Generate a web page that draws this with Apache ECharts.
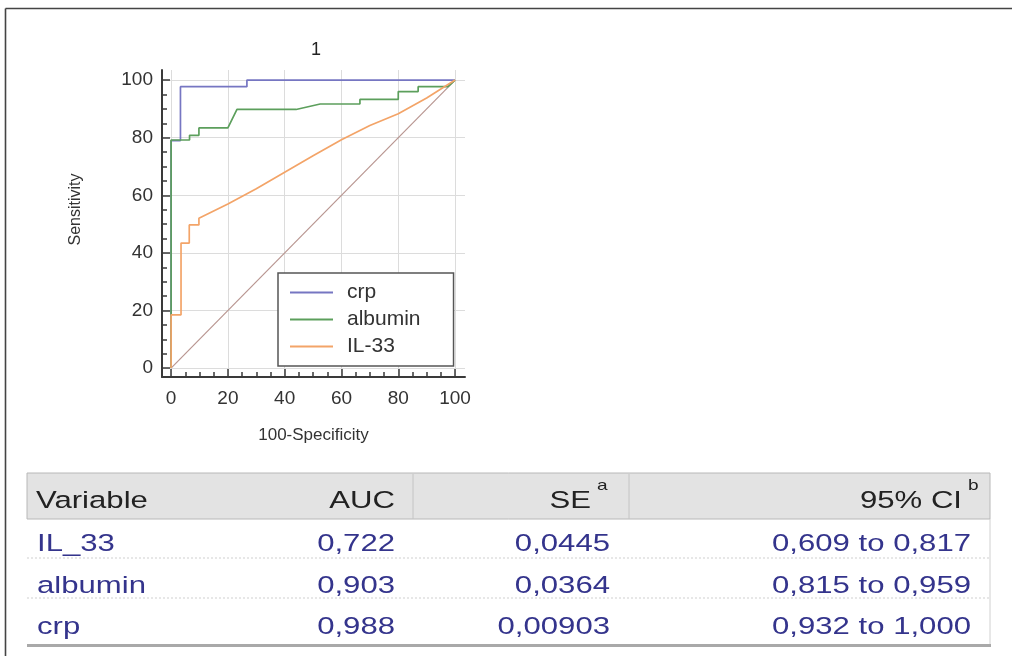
<!DOCTYPE html>
<html>
<head>
<meta charset="utf-8">
<script src="https://cdn.jsdelivr.net/npm/echarts@6/dist/echarts.min.js"></script>
<style>
  html, body { margin: 0; padding: 0; background: #fff; }
  #chart { width: 1012px; height: 656px; }
</style>
</head>
<body>
<div id="chart"></div>
<script>
// ROC curves: [100-Specificity, Sensitivity]
const crpRoc = [[0, 0], [0, 79], [3.3, 79], [3.3, 97.7], [26.7, 97.7], [26.7, 100], [100, 100]];
const albuminRoc = [[0, 0], [0, 79.2], [6.5, 79.2], [6.5, 80.8], [9.8, 80.8], [9.8, 83.4], [20, 83.4],
  [23.2, 89.8], [44, 89.8], [52.5, 91.7], [66.5, 91.7], [66.5, 93.3], [80, 93.3], [80, 96],
  [87, 96], [87, 97.7], [97.5, 97.7], [100, 100]];
const il33Roc = [[0, 0], [0, 18.5], [3.5, 18.5], [3.5, 43.4], [6.4, 43.4], [6.4, 49.7], [9.8, 49.7],
  [9.8, 52], [20, 57], [30, 62.3], [40, 68], [50, 73.7], [60, 79.3], [70, 84.2], [80, 88.3],
  [90, 93.8], [100, 100]];
const diagonal = [[0, 0], [100, 100]];

const seriesNames = ['crp', 'albumin', 'IL-33'];
const majorTicks = [0, 20, 40, 60, 80, 100];
const minorTicks = [0, 5, 10, 15, 20, 25, 30, 35, 40, 45, 50, 55, 60, 65, 70, 75, 80, 85, 90, 95, 100];

// table under the plot
const tableHeader = ['Variable', 'AUC', 'SE', '95% CI'];
const tableSup = ['', '', 'a', 'b'];
const tableVariable = ['IL_33', 'albumin', 'crp'];
const tableAuc = ['0,722', '0,903', '0,988'];
const tableSe = ['0,0445', '0,0364', '0,00903'];
const tableCi = ['0,609 to 0,817', '0,815 to 0,959', '0,932 to 1,000'];

const FONT = '"Liberation Sans", Arial, sans-serif';
const chart = echarts.init(document.getElementById('chart'));

// table drawing
const sx = 1.27;
const fs = 24.5;
const colRight = [null, 395, 591, 962];
const rowY = [544, 586, 627];
const tableEls = [];
tableEls.push({ type: 'rect', shape: { x: 27, y: 473, width: 963, height: 46 },
  style: { fill: '#e3e3e3', stroke: '#b8b8b8', lineWidth: 1 } });
tableEls.push({ type: 'line', shape: { x1: 413, y1: 474, x2: 413, y2: 519 }, style: { stroke: '#c4c4c4', lineWidth: 1 } });
tableEls.push({ type: 'line', shape: { x1: 629, y1: 474, x2: 629, y2: 519 }, style: { stroke: '#c4c4c4', lineWidth: 1 } });
tableEls.push({ type: 'line', shape: { x1: 27, y1: 558, x2: 990, y2: 558 }, style: { stroke: '#cfcfcf', lineWidth: 1, lineDash: [2, 2] } });
tableEls.push({ type: 'line', shape: { x1: 27, y1: 598, x2: 990, y2: 598 }, style: { stroke: '#cfcfcf', lineWidth: 1, lineDash: [2, 2] } });
tableEls.push({ type: 'line', shape: { x1: 990, y1: 519, x2: 990, y2: 645 }, style: { stroke: '#d0d0d0', lineWidth: 1 } });
tableEls.push({ type: 'rect', shape: { x: 27, y: 644, width: 964, height: 3 }, style: { fill: '#a9a9a9' } });

function txt(text, x, y, align, size, color) {
  return { type: 'text', x: x, y: y, scaleX: sx,
    style: { text: text, font: size + 'px ' + FONT, fill: color,
      align: align, textAlign: align, verticalAlign: 'middle', textVerticalAlign: 'middle' } };
}
tableHeader.forEach(function (h, i) {
  if (i === 0) tableEls.push(txt(h, 36, 501, 'left', fs, '#222'));
  else tableEls.push(txt(h, colRight[i], 501, 'right', fs, '#222'));
  if (tableSup[i]) tableEls.push(txt(tableSup[i], colRight[i] + 6, 486, 'left', 15, '#222'));
});
tableVariable.forEach(function (v, r) {
  tableEls.push(txt(v, 37, rowY[r], 'left', fs, '#34348c'));
  tableEls.push(txt(tableAuc[r], colRight[1], rowY[r], 'right', fs, '#34348c'));
  tableEls.push(txt(tableSe[r], 610, rowY[r], 'right', fs, '#34348c'));
  tableEls.push(txt(tableCi[r], 971, rowY[r], 'right', fs, '#34348c'));
});

// outer frame
tableEls.push({ type: 'line', shape: { x1: 5.5, y1: 8.5, x2: 1012, y2: 8.5 }, style: { stroke: '#444', lineWidth: 1.6 } });
tableEls.push({ type: 'line', shape: { x1: 5.5, y1: 8.5, x2: 5.5, y2: 656 }, style: { stroke: '#444', lineWidth: 1.6 } });

const axisColor = '#3a3a3a';
const xMin = -3.2, xMax = 103.5, yMin = -3.1, yMax = 103.5;

function majorAxis(extra) {
  return Object.assign({
    type: 'value',
    axisLine: { show: true, onZero: false, lineStyle: { color: axisColor, width: 2 } },
    axisTick: { show: true, inside: true, length: 8, customValues: majorTicks, lineStyle: { color: axisColor, width: 1.5 } },
    axisLabel: { customValues: majorTicks, fontSize: 19, color: '#333', fontFamily: FONT },
    splitLine: { show: true, lineStyle: { color: '#dcdcdc', width: 1 } },
    nameTextStyle: { fontSize: 16, color: '#333', fontFamily: FONT }
  }, extra);
}
function minorAxis(extra) {
  return Object.assign({
    type: 'value',
    axisLine: { show: false, onZero: false },
    axisTick: { show: true, inside: true, length: 5, customValues: minorTicks, lineStyle: { color: axisColor, width: 1.5 } },
    axisLabel: { show: false },
    splitLine: { show: false }
  }, extra);
}

function lineSeries(name, data, color, width) {
  return { name: name, type: 'line', data: data, xAxisIndex: 0, yAxisIndex: 0,
    symbol: 'none', lineStyle: { color: color, width: width }, itemStyle: { color: color },
    silent: true, z: 3 };
}

const option = {
  animation: false,
  backgroundColor: '#fff',
  textStyle: { fontFamily: FONT },
  title: { text: '1', left: 306, top: 36,
    textStyle: { fontSize: 18, fontWeight: 'normal', color: '#222', fontFamily: FONT } },
  grid: { left: 162, top: 70, width: 303, height: 307, containLabel: false },
  legend: {
    orient: 'vertical', left: 278, top: 273,
    data: seriesNames,
    icon: 'rect',
    itemWidth: 43, itemHeight: 2, itemGap: 6,
    padding: [9, 33, 9, 12],
    backgroundColor: '#fff', borderColor: '#555', borderWidth: 1.5,
    textStyle: { fontSize: 21, color: '#333', fontFamily: FONT, padding: [0, 0, 0, 9] },
    selectedMode: false
  },
  xAxis: [
    majorAxis({ min: xMin, max: xMax, position: 'bottom', name: '100-Specificity',
      nameLocation: 'middle', nameGap: 50,
      nameTextStyle: { fontSize: 17, color: '#333', fontFamily: FONT },
      axisLabel: { customValues: majorTicks, fontSize: 19, color: '#333', fontFamily: FONT, margin: 12 } }),
    minorAxis({ min: xMin, max: xMax, position: 'bottom' })
  ],
  yAxis: [
    majorAxis({ min: yMin, max: yMax, position: 'left', name: 'Sensitivity',
      nameLocation: 'middle', nameGap: 78, nameRotate: 90,
      nameTextStyle: { fontSize: 16, color: '#333', fontFamily: FONT, padding: [0, 0, 0, 28] },
      axisLabel: { customValues: majorTicks, fontSize: 19, color: '#333', fontFamily: FONT, margin: 9 } }),
    minorAxis({ min: yMin, max: yMax, position: 'left' })
  ],
  series: [
    { name: 'diagonal', type: 'line', data: diagonal, symbol: 'none', silent: true,
      lineStyle: { color: '#b89590', width: 1.2 }, z: 2 },
    lineSeries('crp', crpRoc, '#7676c2', 1.7),
    lineSeries('albumin', albuminRoc, '#5c9f5c', 1.7),
    lineSeries('IL-33', il33Roc, '#f3a468', 1.7)
  ],
  graphic: { elements: tableEls }
};
chart.setOption(option);
</script>
</body>
</html>
